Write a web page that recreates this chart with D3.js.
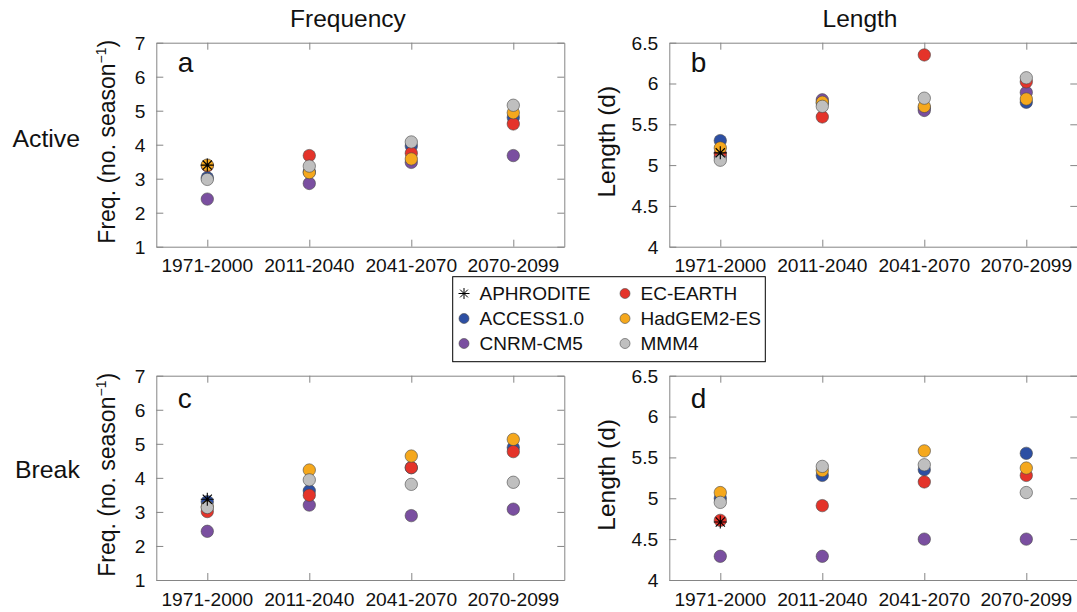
<!DOCTYPE html>
<html>
<head>
<meta charset="utf-8">
<script src="https://cdn.jsdelivr.net/npm/d3@7"></script>
<style>
  body { margin: 0; background: #fff; }
  text { font-family: "Liberation Sans", Arial, Helvetica, sans-serif; fill: #111; }
</style>
</head>
<body>
<svg id="fig" width="1077" height="612"></svg>
<script>
// ---- data -------------------------------------------------------------
const periods = ["1971-2000", "2011-2040", "2041-2070", "2070-2099"];
const models = ["ACCESS1.0", "CNRM-CM5", "EC-EARTH", "HadGEM2-ES", "MMM4"];
const modelColors = ["#2d4fa3", "#7a4fa0", "#e4332a", "#f5a81d", "#bfbfbf"];
const obsName = "APHRODITE";
const freqTicks = [1, 2, 3, 4, 5, 6, 7];
const lenTicks = [4, 4.5, 5, 5.5, 6, 6.5];

// Active spells: frequency (no. season^-1), one array per model, one value per period
const activeFreqACCESS = [3.03, 3.20, 3.96, 4.80];
const activeFreqCNRM   = [2.40, 2.86, 3.48, 3.68];
const activeFreqEC     = [3.38, 3.68, 3.75, 4.61];
const activeFreqHadGEM = [3.40, 3.18, 3.58, 4.94];
const activeFreqMMM4   = [2.98, 3.37, 4.08, 5.16];
const activeFreqObs    = 3.40;

// Active spells: length (d)
const activeLenACCESS = [5.30, 5.76, 5.70, 5.77];
const activeLenCNRM   = [5.10, 5.80, 5.67, 5.89];
const activeLenEC     = [5.14, 5.59, 6.35, 6.02];
const activeLenHadGEM = [5.21, 5.77, 5.72, 5.81];
const activeLenMMM4   = [5.06, 5.72, 5.82, 6.07];
const activeLenObs    = 5.15;

// Break spells: frequency (no. season^-1)
const breakFreqACCESS = [3.30, 3.62, 4.30, 4.89];
const breakFreqCNRM   = [2.43, 3.20, 2.89, 3.08];
const breakFreqEC     = [3.01, 3.49, 4.30, 4.77];
const breakFreqHadGEM = [3.15, 4.23, 4.64, 5.13];
const breakFreqMMM4   = [3.13, 3.94, 3.81, 3.87];
const breakFreqObs    = 3.37;

// Break spells: length (d)
const breakLenACCESS = [5.00, 5.28, 5.35, 5.55];
const breakLenCNRM   = [4.29, 4.29, 4.50, 4.50];
const breakLenEC     = [4.73, 4.91, 5.20, 5.28];
const breakLenHadGEM = [5.07, 5.34, 5.58, 5.37];
const breakLenMMM4   = [4.95, 5.39, 5.41, 5.07];
const breakLenObs    = 4.71;

// ---- layout -----------------------------------------------------------
const svg = d3.select("#fig");
const FONT = '"Liberation Sans", Arial, Helvetica, sans-serif';
const frameColor = "#858585";
const tickLen = 7;

const cols = [{ x0: 156.3, x1: 564.3 }, { x0: 669.3, x1: 1077.3 }];
const rows = [{ y0: 42.7, y1: 246.7 }, { y0: 375.7, y1: 580 }];

const panels = [
  { letter: "a", col: 0, row: 0, domain: [1, 7], ticks: freqTicks, ylab: "freq",
    series: [activeFreqACCESS, activeFreqCNRM, activeFreqEC, activeFreqHadGEM, activeFreqMMM4], obs: activeFreqObs, letterDy: 29.6 },
  { letter: "b", col: 1, row: 0, domain: [4, 6.5], ticks: lenTicks, ylab: "len",
    series: [activeLenACCESS, activeLenCNRM, activeLenEC, activeLenHadGEM, activeLenMMM4], obs: activeLenObs, letterDy: 29.6 },
  { letter: "c", col: 0, row: 1, domain: [1, 7], ticks: freqTicks, ylab: "freq",
    series: [breakFreqACCESS, breakFreqCNRM, breakFreqEC, breakFreqHadGEM, breakFreqMMM4], obs: breakFreqObs, letterDy: 32 },
  { letter: "d", col: 1, row: 1, domain: [4, 6.5], ticks: lenTicks, ylab: "len",
    series: [breakLenACCESS, breakLenCNRM, breakLenEC, breakLenHadGEM, breakLenMMM4], obs: breakLenObs, letterDy: 32 }
];

// asterisk marker (+ and x overlaid)
function starPath(r) {
  const d = r * Math.SQRT1_2;
  return `M${-r},0L${r},0M0,${-r}L0,${r}M${-d},${-d}L${d},${d}M${-d},${d}L${d},${-d}`;
}

panels.forEach(p => {
  const c = cols[p.col], r = rows[p.row];
  const x = d3.scalePoint().domain(periods).range([c.x0, c.x1]).padding(0.5);
  const y = d3.scaleLinear().domain(p.domain).range([r.y1, r.y0]);
  const g = svg.append("g");

  // frame with inward ticks on all four sides
  const axes = [
    { ax: d3.axisBottom(x), tr: `translate(0,${r.y1})` },
    { ax: d3.axisTop(x), tr: `translate(0,${r.y0})` },
    { ax: d3.axisLeft(y).tickValues(p.ticks), tr: `translate(${c.x0},0)` },
    { ax: d3.axisRight(y).tickValues(p.ticks), tr: `translate(${c.x1},0)` }
  ];
  axes.forEach(a => {
    const ag = g.append("g").attr("transform", a.tr)
      .call(a.ax.tickSizeInner(-tickLen).tickSizeOuter(0).tickFormat(""));
    ag.select(".domain").attr("stroke", frameColor).attr("stroke-width", 1);
    ag.selectAll(".tick line").attr("stroke", frameColor).attr("stroke-width", 1);
  });

  // x tick labels
  g.selectAll(".xlab").data(periods).join("text")
    .attr("x", d => x(d)).attr("y", r.y1 + 25.5)
    .attr("text-anchor", "middle").attr("font-size", 19.2)
    .text(d => d);

  // y tick labels
  g.selectAll(".ylab").data(p.ticks).join("text")
    .attr("x", c.x0 - 11).attr("y", d => y(d)).attr("dy", "0.36em")
    .attr("text-anchor", "end").attr("font-size", 19.2)
    .text(d => d3.format("~g")(d));

  // model markers, drawn in legend order
  p.series.forEach((vals, i) => {
    g.selectAll(null).data(vals).join("circle")
      .attr("cx", (d, j) => x(periods[j])).attr("cy", d => y(d))
      .attr("r", 6.2)
      .attr("fill", modelColors[i]).attr("stroke", "#4a4a4a").attr("stroke-width", 0.6);
  });

  // observations, baseline period only
  g.append("path").attr("d", starPath(6.5))
    .attr("transform", `translate(${x(periods[0])},${y(p.obs)})`)
    .attr("stroke", "#000").attr("stroke-width", 1.1).attr("fill", "none");

  // panel letter
  g.append("text").attr("x", c.x0 + 21.5).attr("y", r.y0 + p.letterDy)
    .attr("font-size", 28).text(p.letter);

  // y-axis label
  const cy = (r.y0 + r.y1) / 2 - 3;
  if (p.ylab === "freq") {
    const t = g.append("text")
      .attr("transform", `translate(${c.x0 - 41},${cy}) rotate(-90)`)
      .attr("text-anchor", "middle").attr("font-size", 23);
    t.append("tspan").text("Freq. (no. season");
    t.append("tspan").attr("font-size", 14).attr("dy", -9).text("\u22121");
    t.append("tspan").attr("dy", 9).text(")");
  } else {
    g.append("text")
      .attr("transform", `translate(${c.x0 - 54},${cy}) rotate(-90)`)
      .attr("text-anchor", "middle").attr("font-size", 24.5)
      .text("Length (d)");
  }
});

// column titles
svg.append("text").attr("x", 348).attr("y", 27).attr("text-anchor", "middle")
  .attr("font-size", 24.5).text("Frequency");
svg.append("text").attr("x", 860).attr("y", 27).attr("text-anchor", "middle")
  .attr("font-size", 24.5).text("Length");

// row labels
svg.append("text").attr("x", 12.5).attr("y", 146.7).attr("font-size", 24.8).text("Active");
svg.append("text").attr("x", 15).attr("y", 478.3).attr("font-size", 24.8).text("Break");

// ---- legend -------------------------------------------------------------
const legend = svg.append("g");
legend.append("rect").attr("x", 452.7).attr("y", 276.7)
  .attr("width", 312.6).attr("height", 85)
  .attr("fill", "#fff").attr("stroke", "#000").attr("stroke-width", 1);

const legendItems = [
  { name: obsName, color: null },
  ...models.map((m, i) => ({ name: m, color: modelColors[i] }))
];
// column-major, three rows per column
legendItems.forEach((it, k) => {
  const colI = Math.floor(k / 3), rowI = k % 3;
  const mx = colI === 0 ? 464 : 625;
  const base = 300 + rowI * 25;
  const my = base - 6.5;
  if (it.color === null) {
    legend.append("path").attr("d", starPath(5.5))
      .attr("transform", `translate(${mx},${my})`)
      .attr("stroke", "#000").attr("stroke-width", 1).attr("fill", "none");
  } else {
    legend.append("circle").attr("cx", mx).attr("cy", my).attr("r", 5)
      .attr("fill", it.color).attr("stroke", "#4a4a4a").attr("stroke-width", 0.6);
  }
  legend.append("text").attr("x", mx + 15.5).attr("y", base)
    .attr("font-size", 19).text(it.name);
});
</script>
</body>
</html>
